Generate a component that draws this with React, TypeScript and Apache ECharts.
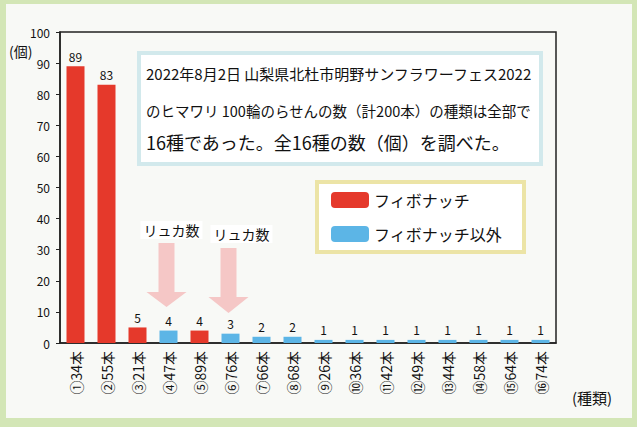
import React, { useEffect, useRef } from "react";
import * as echarts from "echarts";

const categories = [
  "①34本", "②55本", "③21本", "④47本", "⑤89本", "⑥76本", "⑦66本", "⑧68本",
  "⑨26本", "⑩36本", "⑪42本", "⑫49本", "⑬44本", "⑭58本", "⑮64本", "⑯74本",
];
const counts = [89, 83, 5, 4, 4, 3, 2, 2, 1, 1, 1, 1, 1, 1, 1, 1];
const isFibonacci = [true, true, true, false, true, false, false, false, false, false, false, false, false, false, false, false];
const seriesNames = ["フィボナッチ", "フィボナッチ以外"];
const lucasIndices = [3, 5];
const noteLines = [
  "2022年8月2日 山梨県北杜市明野サンフラワーフェス2022",
  "のヒマワリ 100輪のらせんの数（計200本）の種類は全部で",
  "16種であった。全16種の数（個）を調べた。",
];

const FONT = "'Noto Sans CJK JP', 'Noto Sans', sans-serif";
const RED = "#e5392b";
const BLUE = "#5cb5e6";

export default function App() {
  const ref = useRef<HTMLDivElement>(null);
  useEffect(() => {
    if (!ref.current) return;
    const chart = echarts.init(ref.current, undefined, { renderer: "svg" });
    const fibData = counts.map((v, i) => (isFibonacci[i] ? v : null));
    const otherData = counts.map((v, i) => (isFibonacci[i] ? null : v));
    const label = { show: true, position: "top", color: "#111", fontSize: 12, fontFamily: FONT, distance: 4 };
    chart.setOption({
      animation: false,
      textStyle: { fontFamily: FONT },
      grid: { left: 60, right: 81, top: 32, bottom: 84, show: true, borderColor: "#222", borderWidth: 1.5, backgroundColor: "transparent" },
      legend: {
        orient: "vertical",
        left: 317,
        top: 182,
        itemWidth: 38,
        itemHeight: 16,
        itemGap: 18,
        padding: [10, 22, 10, 14],
        borderColor: "#ece4a6",
        borderWidth: 4,
        backgroundColor: "#ffffff",
        textStyle: { fontSize: 16, color: "#111", fontFamily: FONT },
        data: seriesNames,
        selectedMode: false,
      },
      xAxis: {
        type: "category",
        data: categories,
        axisLine: { lineStyle: { color: "#222", width: 1.5 } },
        axisTick: { show: false },
        axisLabel: { rotate: 90, fontSize: 14, color: "#111", margin: 8, interval: 0, fontFamily: FONT },
      },
      yAxis: {
        type: "value",
        min: 0,
        max: 100,
        interval: 10,
        splitLine: { show: false },
        axisLine: { show: true, lineStyle: { color: "#222", width: 1.5 } },
        axisTick: { show: true, length: 4, lineStyle: { color: "#222" } },
        axisLabel: { fontSize: 12, color: "#111", margin: 10, fontFamily: FONT },
      },
      series: [
        { name: seriesNames[0], type: "bar", stack: "a", barWidth: 18, data: fibData, itemStyle: { color: RED }, label },
        { name: seriesNames[1], type: "bar", stack: "a", barWidth: 18, data: otherData, itemStyle: { color: BLUE }, label },
      ],
    });

    const graphics: any[] = [
      { type: "rect", z: -10, silent: true, shape: { x: 6, y: 4, width: 626, height: 414 }, style: { fill: "#f8f9f6" } },
      {
        type: "rect", z: 5, shape: { x: 139, y: 53, width: 402, height: 111 },
        style: { fill: "#ffffff", stroke: "#d2e9ec", lineWidth: 4 },
      },
      { type: "text", left: 9, top: 44, z: 6, style: { text: "(個)", fontSize: 14, fill: "#111", fontFamily: FONT } },
      { type: "text", left: 572, top: 390, z: 6, style: { text: "(種類)", fontSize: 15, fill: "#111", fontFamily: FONT } },
    ];
    const lineSizes = [15, 14.5, 18];
    noteLines.forEach((t, i) => {
      graphics.push({
        type: "text", z: 6, x: 146, y: [73, 110, 142][i],
        style: { text: t, fontSize: lineSizes[i], fill: "#111", fontFamily: FONT, verticalAlign: "middle" },
      });
    });
    lucasIndices.forEach((idx, k) => {
      const [cx] = chart.convertToPixel({ xAxisIndex: 0, yAxisIndex: 0 }, [idx, 0]) as number[];
      const c = cx - 2;
      const top = k === 0 ? 243 : 248;
      const headTop = k === 0 ? 292 : 297;
      const tip = k === 0 ? 307 : 313;
      graphics.push({
        type: "polygon", z: 4,
        shape: { points: [[c - 8, top], [c + 8, top], [c + 8, headTop], [c + 20, headTop], [c, tip], [c - 20, headTop], [c - 8, headTop]] },
        style: { fill: "#f5c7c6" },
      });
      graphics.push({
        type: "text", z: 6, x: k === 0 ? c - 26 : c - 18, y: k === 0 ? 230 : 234,
        style: { text: "リュカ数", fontSize: 14, fill: "#111", fontFamily: FONT, verticalAlign: "middle", backgroundColor: "#ffffff", padding: [2, 3] },
      });
    });
    chart.setOption({ graphic: graphics });
    return () => chart.dispose();
  }, []);
  return (
    <div
      ref={ref}
      style={{ position: "fixed", left: 0, top: 0, width: 637, height: 427, background: "#d3e6b6" }}
    />
  );
}
